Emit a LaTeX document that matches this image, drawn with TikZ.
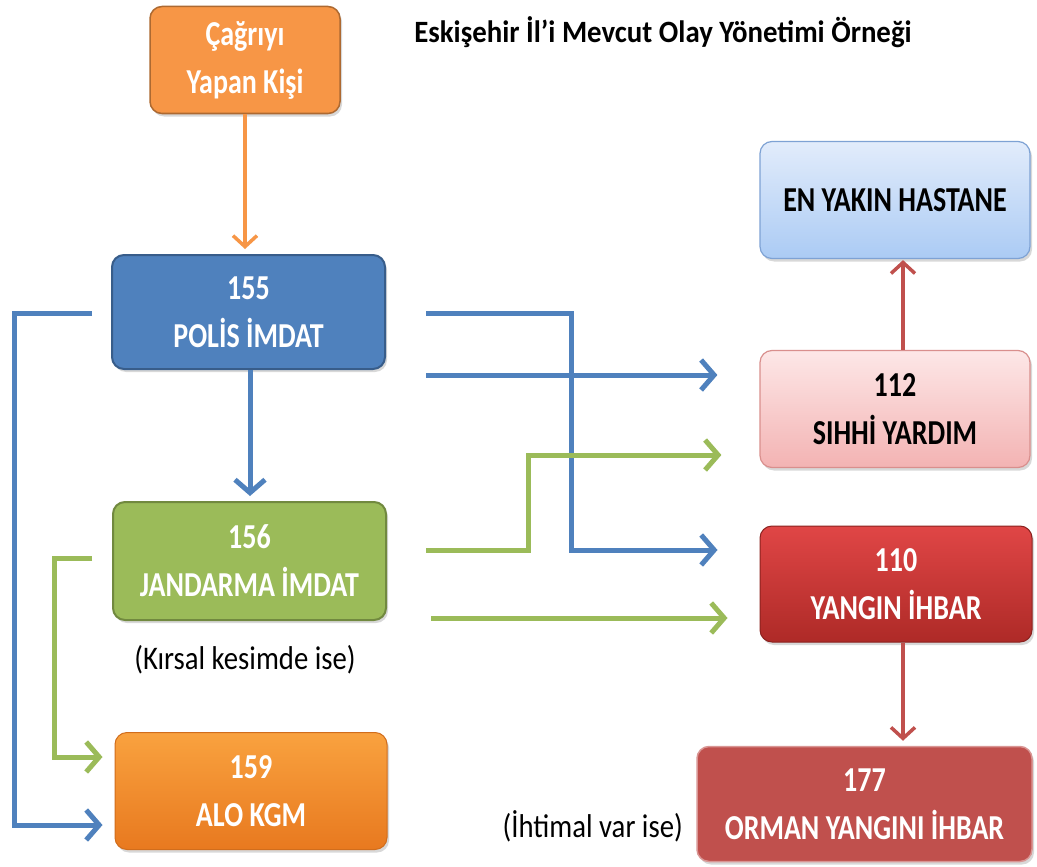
\documentclass[tikz,border=0pt]{standalone}
\usepackage{fontspec}
\setmainfont{Carlito}
\newfontfamily\boxfont[FakeStretch=0.8]{Carlito}
\newfontfamily\lblfont[FakeStretch=0.87]{Carlito}
\newfontfamily\ttlfont[FakeStretch=0.93]{Carlito}
\usetikzlibrary{arrows.meta,calc,shadows}
\definecolor{orgA}{HTML}{F79646}
\definecolor{orgB}{HTML}{F9A23F}
\definecolor{orgC}{HTML}{E8791F}
\definecolor{bluA}{HTML}{4F81BD}
\definecolor{bluD}{HTML}{385D8A}
\definecolor{grnA}{HTML}{9BBB59}
\definecolor{grnD}{HTML}{71893F}
\definecolor{redA}{HTML}{C0504D}
\definecolor{redB}{HTML}{E04646}
\definecolor{redC}{HTML}{AE2A27}
\definecolor{hosA}{HTML}{E2ECFB}
\definecolor{hosB}{HTML}{ABCBF4}
\definecolor{hosD}{HTML}{7EA2D4}
\definecolor{pnkA}{HTML}{FDE7E7}
\definecolor{pnkB}{HTML}{F3B3B3}
\definecolor{pnkD}{HTML}{D98F8D}
\tikzset{
  box/.style={rectangle, rounded corners=12pt, align=center, inner sep=0pt,
    font=\boxfont\bfseries\fontsize{35}{48}\selectfont, text=white,
    drop shadow={opacity=0.3, shadow xshift=2pt, shadow yshift=-3pt}},
  lbl/.style={inner sep=0pt, font=\lblfont\fontsize{33}{38}\selectfont},
  conn/.style={line width=5pt, -{Straight Barb[length=13pt,width=30pt]}},
  bconn/.style={conn, draw=bluA},
  gconn/.style={conn, draw=grnA},
  rconn/.style={line width=3.5pt, draw=redA, -{Straight Barb[length=11pt,width=24pt]}},
  oconn/.style={line width=3.5pt, draw=orgA, -{Straight Barb[length=11pt,width=24pt]}},
}
\begin{document}
\begin{tikzpicture}[x=1pt,y=-1pt]
\useasboundingbox (0,0) rectangle (1037,867);
\fill[white] (0,0) rectangle (1037,867);

\node[font=\ttlfont\bfseries\fontsize{31}{36}\selectfont, inner sep=0pt] (title) at (663,32) {Eskişehir İl’i Mevcut Olay Yönetimi Örneği};

\node[box, minimum width=190pt, minimum height=107pt, fill=orgA, draw=orgA!70!black, line width=1.5pt] (call) at (245,60) {Çağrıyı\\Yapan Kişi};
\node[box, minimum width=273pt, minimum height=114pt, fill=bluA, draw=bluD, line width=2pt] (p155) at (248.5,312) {155\\POLİS İMDAT};
\node[box, minimum width=273pt, minimum height=118pt, fill=grnA, draw=grnD, line width=2pt] (j156) at (249.5,561) {156\\JANDARMA İMDAT};
\node[box, minimum width=272pt, minimum height=117pt, top color=orgB, bottom color=orgC, draw=orgC!90!black, line width=1pt] (k159) at (251,791) {159\\ALO KGM};
\node[box, minimum width=270pt, minimum height=117pt, top color=hosA, bottom color=hosB, draw=hosD, line width=1.2pt, text=black] (hast) at (895,200) {EN YAKIN HASTANE};
\node[box, minimum width=270pt, minimum height=117pt, top color=pnkA, bottom color=pnkB, draw=pnkD, line width=1.2pt, text=black] (s112) at (895,409) {112\\SIHHİ YARDIM};
\node[box, minimum width=272pt, minimum height=116pt, top color=redB, bottom color=redC, draw=redC!80!black, line width=1pt] (y110) at (896,584) {110\\YANGIN İHBAR};
\node[box, minimum width=335pt, minimum height=115pt, fill=redA, draw=redA!60!white, line width=1.5pt] (o177) at (864.5,804) {177\\ORMAN YANGINI İHBAR};

\node[lbl] (kirsal) at (245,660) {(Kırsal kesimde ise)};
\node[lbl, anchor=east] (ihtimal) at (683,826) {(İhtimal var ise)};

% orange
\draw[oconn, shorten >=5pt] (call.south) -- (call.south |- p155.north);
% blue
\draw[bconn, shorten >=5pt] ($(p155.south)+(1.5,0)$) -- ($(p155.south |- j156.north)+(1.5,0)$);
\coordinate (bl1) at ($(p155.west)+(-19,1)$);
\coordinate (bl2) at ($(k159.west)+(-12,34)$);
\draw[bconn] (bl1) -- ++(-78,0) |- (bl2);
\coordinate (br1) at ($(p155.east)+(40,1)$);
\coordinate (br2) at ($(y110.west)+(-188,-34)$);
\coordinate (br3) at ($(y110.west)+(-42,-34)$);
\draw[bconn] (br1) -| (br2) -- (br3);
\coordinate (bm1) at ($(p155.east)+(40,63)$);
\coordinate (bm2) at ($(s112.west)+(-42,-34)$);
\draw[bconn] (bm1) -- (bm2);
% green
\coordinate (g1) at ($(j156.east)+(39,-11)$);
\coordinate (g2) at ($(s112.west)+(-38,46)$);
\draw[gconn] (g1) -- ++(102,0) |- (g2);
\coordinate (g3) at ($(j156.east)+(44,57)$);
\coordinate (g4) at ($(y110.west)+(-32,34)$);
\draw[gconn] (g3) -- (g4);
\coordinate (g5) at ($(j156.west)+(-20,-3)$);
\coordinate (g6) at ($(k159.west)+(-12,-34)$);
\draw[gconn] (g5) -- ++(-38,0) |- (g6);
% red
\draw[rconn, shorten >=1pt] ($(s112.north)+(8,0)$) -- ($(hast.south)+(8,0)$);
\draw[rconn, shorten >=5pt] ($(y110.south)+(7,0)$) -- ($(y110.south |- o177.north)+(7,0)$);
\end{tikzpicture}
\end{document}
